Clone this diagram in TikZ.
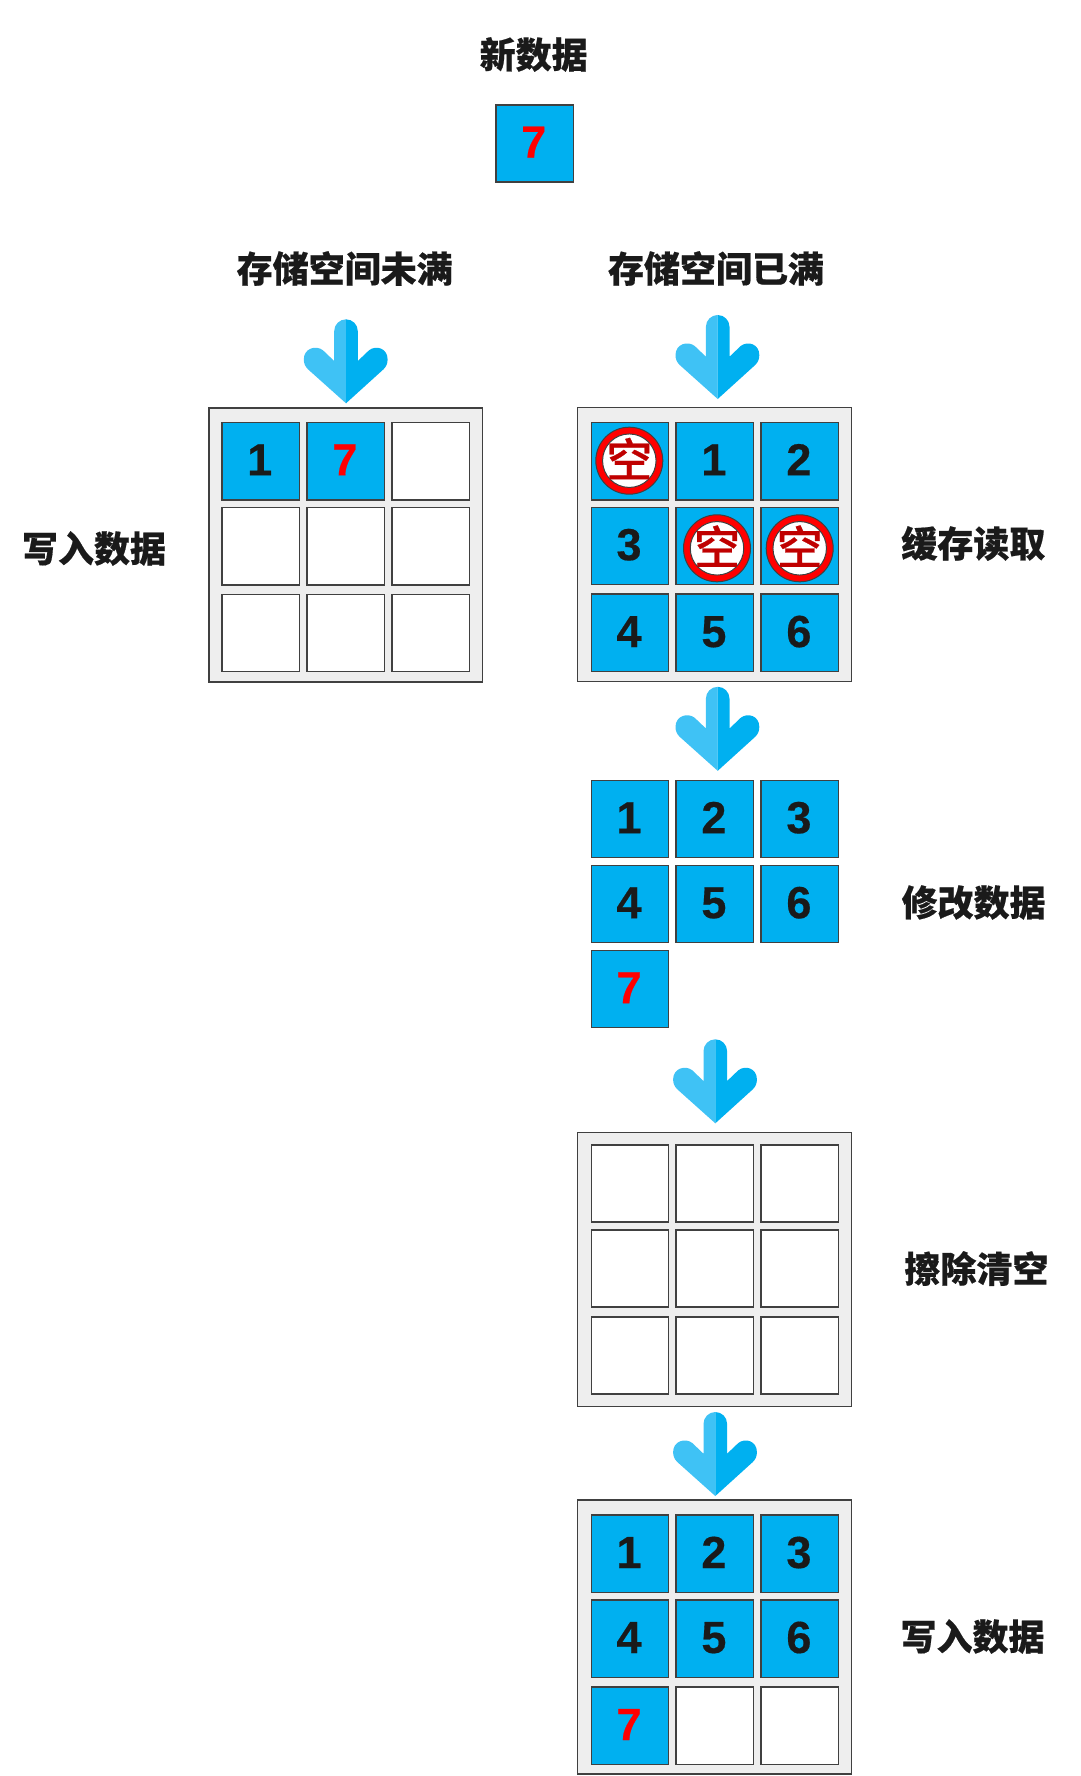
\documentclass[tikz,border=0pt]{standalone}
\usepackage{fontspec}
\setmainfont{Liberation Sans}[BoldFeatures={FakeBold=0.4}]
\newfontfamily\cjkfont{Noto Sans CJK SC}[BoldFeatures={FakeBold=0.5}]
\newfontfamily\stampfont{Noto Sans CJK SC Medium}[FakeBold=0.5]
\definecolor{cellblue}{HTML}{00B0F0}
\definecolor{lightblue}{HTML}{3FC2F5}
\definecolor{edgegray}{HTML}{404040}
\definecolor{panelgray}{HTML}{EEEEEE}
\definecolor{inktext}{HTML}{1A1A1A}
\definecolor{stampred}{HTML}{C00000}
\tikzset{
  basecell/.style={rectangle,draw=edgegray,line width=1.5pt,minimum width=77.4pt,minimum height=77.4pt,inner sep=0pt,
    text height=32pt,text depth=3.6pt,font=\fontsize{45}{45}\selectfont\bfseries,execute at begin node={\kern-2pt}},
  fullcell/.style={basecell,fill=cellblue,text=inktext},
  newcell/.style={basecell,fill=cellblue,text=red},
  emptycell/.style={basecell,fill=white},
  panel/.style={rectangle,draw=edgegray,line width=1.5pt,fill=panelgray,minimum width=273.6pt,minimum height=274pt,inner sep=0pt},
  title/.style={inner sep=0pt,text=inktext,font=\fontsize{36}{36}\selectfont\cjkfont\bfseries},
  stampring/.style={circle,fill=red,draw=edgegray,line width=1pt,minimum size=67pt,inner sep=0pt},
  stampface/.style={circle,fill=white,draw=edgegray,line width=1pt,minimum size=53.5pt,inner sep=0pt},
  stamptext/.style={inner sep=0pt,text=stampred,font=\fontsize{46}{46}\selectfont\stampfont},
  downarrow/.pic={
    \fill[lightblue] (0,0) .. controls (-6.5,0) and (-11.8,5.3) .. (-11.8,11.8) -- (-11.8,41.7) -- (-23,31)
      .. controls (-30,25.5) and (-42.2,29) .. (-42.2,40) .. controls (-42.2,44) and (-41,47) .. (-38,50) -- (0,84) -- cycle;
    \fill[cellblue] (0,0) .. controls (6.5,0) and (11.8,5.3) .. (11.8,11.8) -- (11.8,41.7) -- (23,31)
      .. controls (30,25.5) and (41.6,29) .. (41.6,40) .. controls (41.6,44) and (40.5,47) .. (37.5,50) -- (0,84) -- cycle;
  }
}
\begin{document}
\begin{tikzpicture}[x=1pt,y=-1pt]
\useasboundingbox (0,0) rectangle (1080,1776);
% titles
\node[title] (tnew) at (533.7,54.5) {新数据};
\node[title] (tnot) at (344.7,268.5) {存储空间未满};
\node[title] (tfull) at (716,268.5) {存储空间已满};
\node[title] (twl) at (94,548.5) {写入数据};
\node[title] (tread) at (973.3,543.5) {缓存读取};
\node[title] (tmod) at (973.6,902.5) {修改数据};
\node[title] (terase) at (976.4,1268.5) {擦除清空};
\node[title] (twr) at (972.5,1636.5) {写入数据};
% new data
\node[newcell] (nd) at (534.7,143.5) {7};
% arrows
\pic at (346,319.3) {downarrow};
\pic at (717.7,315) {downarrow};
\pic at (717.7,686.8) {downarrow};
\pic at (715.3,1039.3) {downarrow};
\pic at (715.3,1412) {downarrow};
% left panel
\node[panel] (pl) at (345.9,544.8) {};
\node[fullcell] (l11) at (260.7,461.2) {1};
\node[newcell] (l12) at (345.9,461.2) {7};
\node[emptycell] (l13) at (430.7,461.2) {};
\node[emptycell] (l21) at (260.7,546.2) {};
\node[emptycell] (l22) at (345.9,546.2) {};
\node[emptycell] (l23) at (430.7,546.2) {};
\node[emptycell] (l31) at (260.7,633) {};
\node[emptycell] (l32) at (345.9,633) {};
\node[emptycell] (l33) at (430.7,633) {};
% read panel
\node[panel] (pa) at (714.5,544.6) {};
\node[fullcell] (a11) at (630,461.2) {};
\node[fullcell] (a12) at (714.9,461.2) {1};
\node[fullcell] (a13) at (799.9,461.2) {2};
\node[fullcell] (a21) at (630,546) {3};
\node[fullcell] (a22) at (714.9,546) {};
\node[fullcell] (a23) at (799.9,546) {};
\node[fullcell] (a31) at (630,632.9) {4};
\node[fullcell] (a32) at (714.9,632.9) {5};
\node[fullcell] (a33) at (799.9,632.9) {6};
\node[stampring] (r1) at (629.3,460.7) {};
\node[stampface] (f1) at (629.3,460.7) {};
\node[stamptext] (s1) at (629.3,458.5) {空};
\node[stampring] (r2) at (717,548.3) {};
\node[stampface] (f2) at (717,548.3) {};
\node[stamptext] (s2) at (717,546.1) {空};
\node[stampring] (r3) at (799.7,548.3) {};
\node[stampface] (f3) at (799.7,548.3) {};
\node[stamptext] (s3) at (799.7,546.1) {空};
% modify grid
\node[fullcell] (b11) at (630,819) {1};
\node[fullcell] (b12) at (714.9,819) {2};
\node[fullcell] (b13) at (799.9,819) {3};
\node[fullcell] (b21) at (630,904) {4};
\node[fullcell] (b22) at (714.9,904) {5};
\node[fullcell] (b23) at (799.9,904) {6};
\node[newcell] (b31) at (630,989) {7};
% erase panel
\node[panel] (pc) at (714.5,1269.4) {};
\node[emptycell] (c11) at (630,1183.5) {};
\node[emptycell] (c12) at (714.9,1183.5) {};
\node[emptycell] (c13) at (799.9,1183.5) {};
\node[emptycell] (c21) at (630,1268.5) {};
\node[emptycell] (c22) at (714.9,1268.5) {};
\node[emptycell] (c23) at (799.9,1268.5) {};
\node[emptycell] (c31) at (630,1355.5) {};
\node[emptycell] (c32) at (714.9,1355.5) {};
\node[emptycell] (c33) at (799.9,1355.5) {};
% write panel
\node[panel] (pd) at (714.5,1637) {};
\node[fullcell] (d11) at (630,1553.8) {1};
\node[fullcell] (d12) at (714.9,1553.8) {2};
\node[fullcell] (d13) at (799.9,1553.8) {3};
\node[fullcell] (d21) at (630,1638.8) {4};
\node[fullcell] (d22) at (714.9,1638.8) {5};
\node[fullcell] (d23) at (799.9,1638.8) {6};
\node[newcell] (d31) at (630,1725.8) {7};
\node[emptycell] (d32) at (714.9,1725.8) {};
\node[emptycell] (d33) at (799.9,1725.8) {};
\end{tikzpicture}
\end{document}
